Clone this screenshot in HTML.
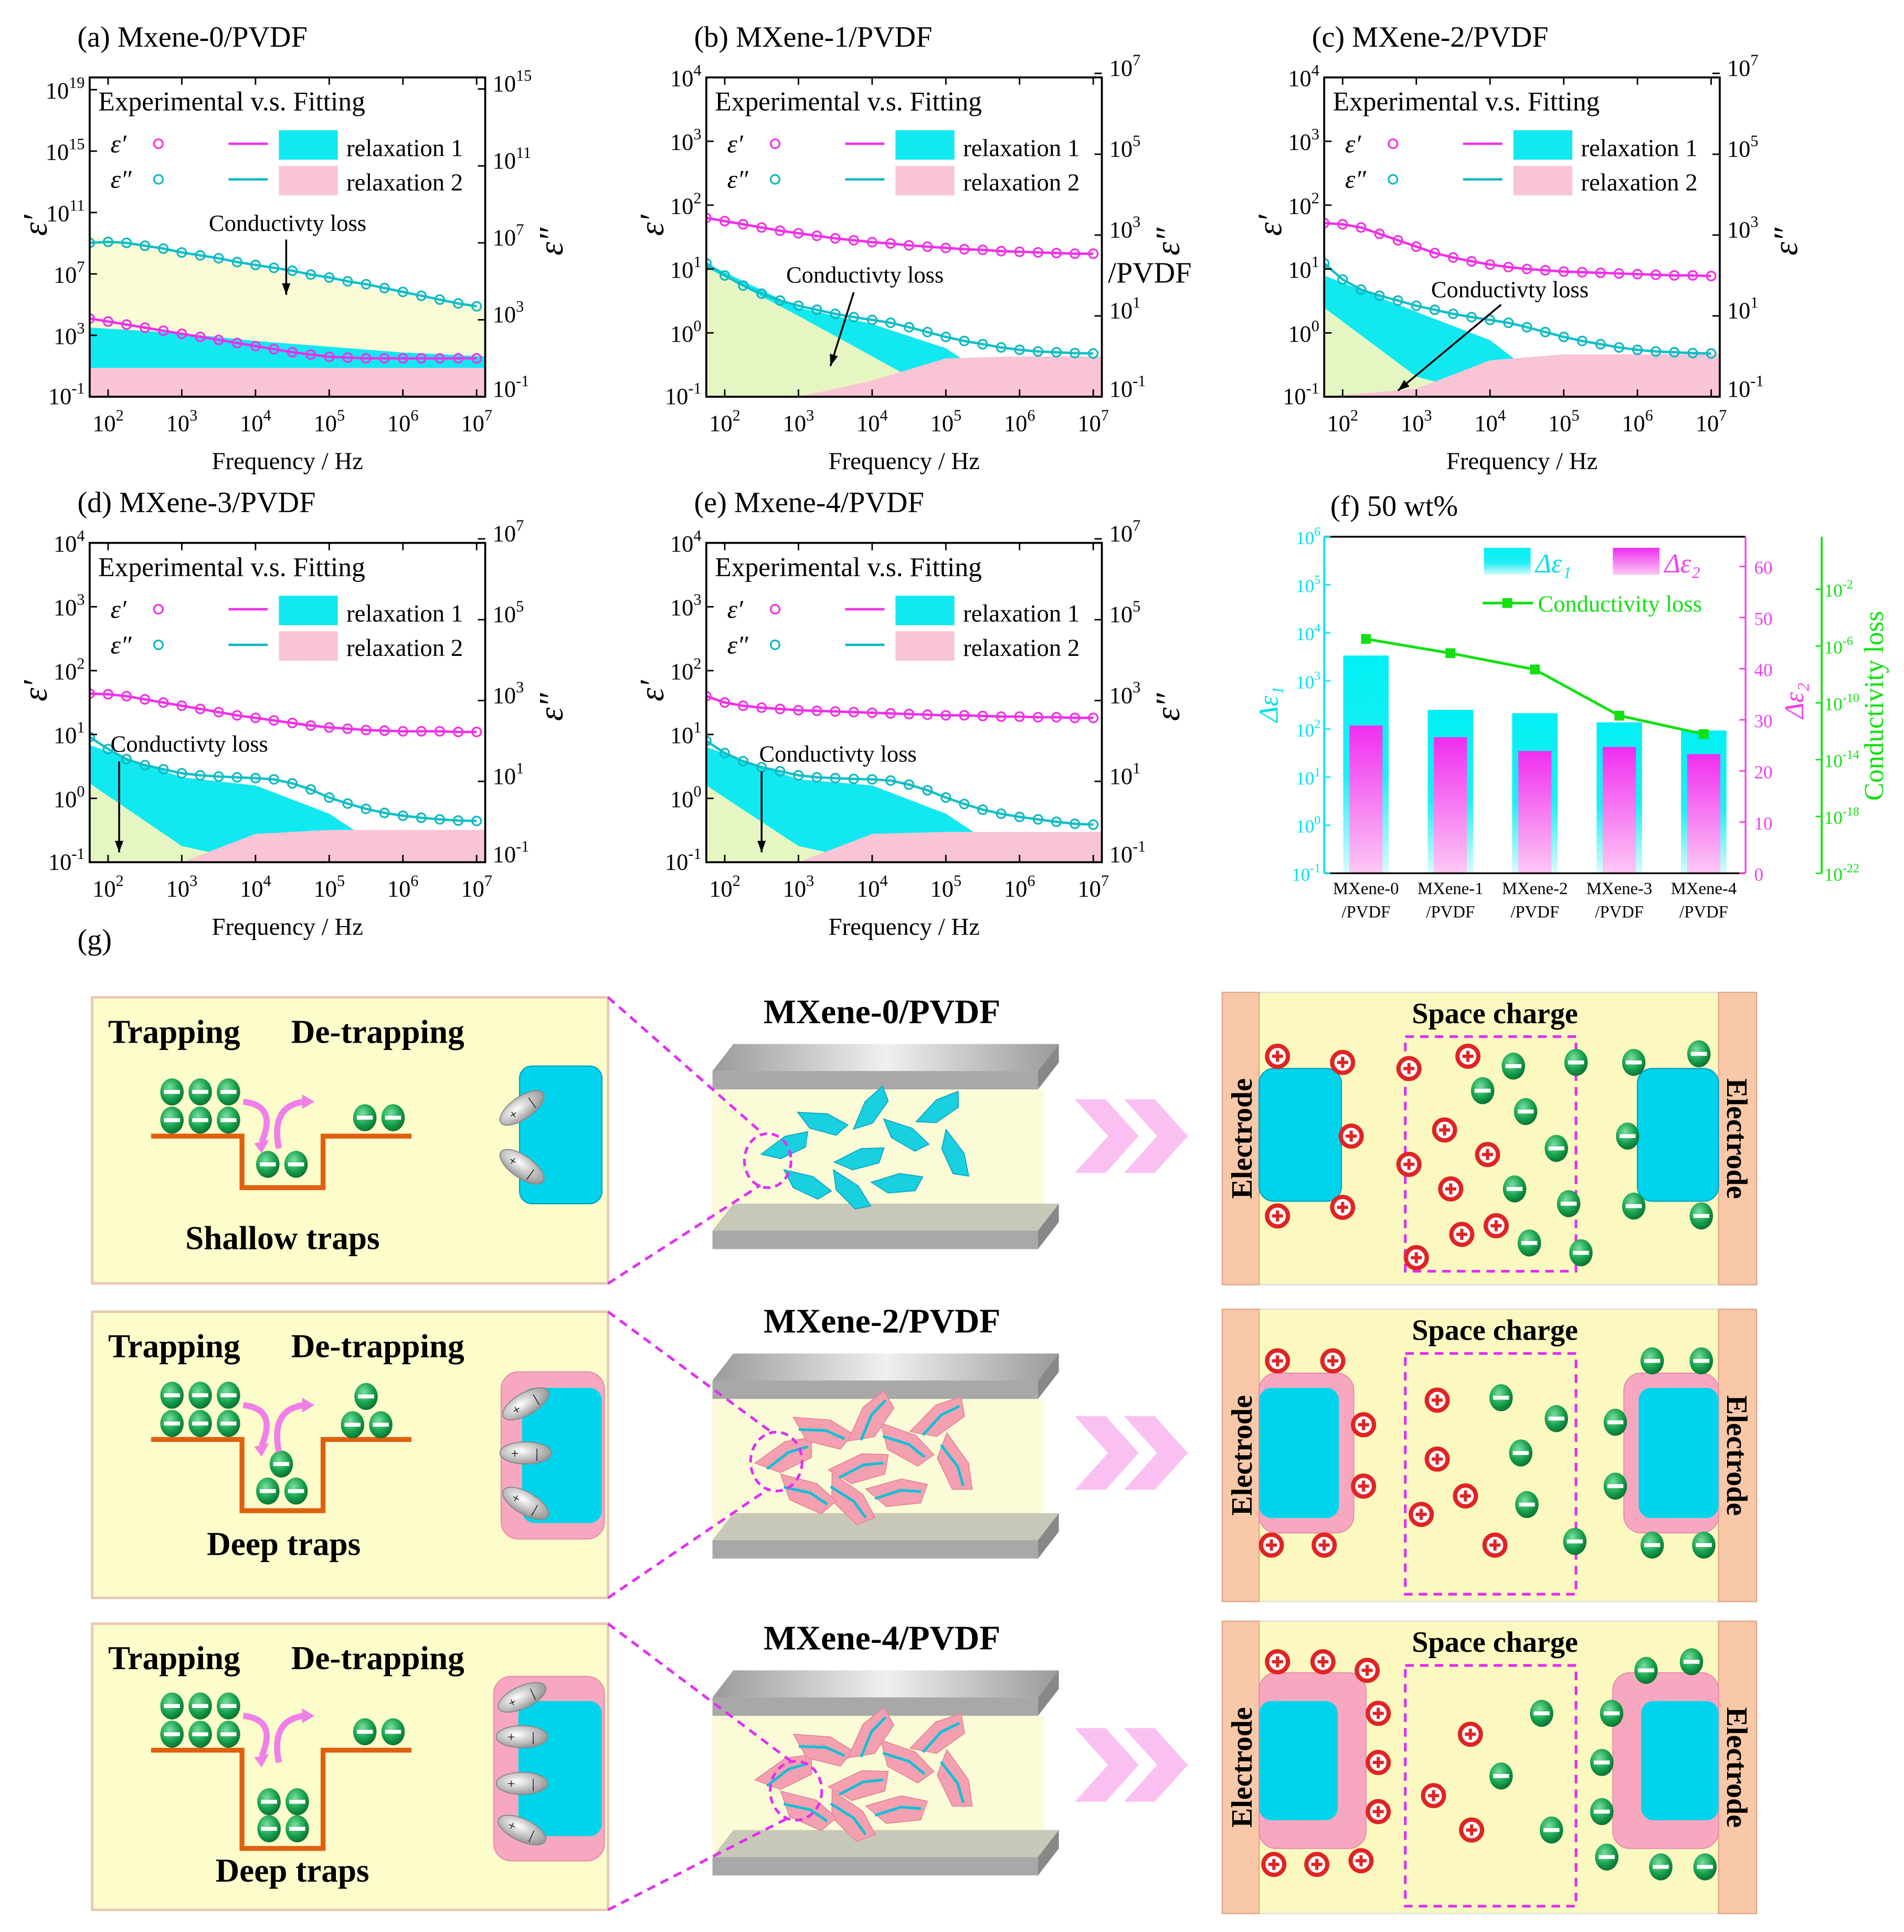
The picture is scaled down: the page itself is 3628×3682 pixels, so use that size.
<!DOCTYPE html>
<html><head><meta charset="utf-8"><style>
html,body{margin:0;padding:0;background:#fff}
svg{display:block}
text{font-family:"Liberation Serif",serif}
</style></head><body>
<svg id="fig" xmlns="http://www.w3.org/2000/svg" width="3628" height="3682" viewBox="0 0 1550 1573">
<defs>
<radialGradient id="gball" cx="0.4" cy="0.35" r="0.7"><stop offset="0" stop-color="#7be0a0"/><stop offset="0.6" stop-color="#16a04c"/><stop offset="1" stop-color="#0a6a30"/></radialGradient>
<linearGradient id="gcy" x1="0" y1="0" x2="0" y2="1"><stop offset="0" stop-color="#00f0f5"/><stop offset="0.55" stop-color="#20eef2"/><stop offset="1" stop-color="#d8fbfc"/></linearGradient>
<linearGradient id="gmg" x1="0" y1="0" x2="0" y2="1"><stop offset="0" stop-color="#f02ef0"/><stop offset="1" stop-color="#fcc8f4"/></linearGradient>
<linearGradient id="gplate" x1="0" y1="0" x2="1" y2="0"><stop offset="0" stop-color="#9a9a9a"/><stop offset="0.5" stop-color="#f0f0f0"/><stop offset="1" stop-color="#9a9a9a"/></linearGradient>
<radialGradient id="gdip" cx="0.4" cy="0.4" r="0.7"><stop offset="0" stop-color="#ffffff"/><stop offset="1" stop-color="#8a8a8a"/></radialGradient>
</defs>
<g id="charts"></g>
<g id="schem"></g>
</svg>
<script>
// ---------- shared chart data ----------
const fLog = [1.75,2,2.25,2.5,2.75,3,3.25,3.5,3.75,4,4.25,4.5,4.75,5,5.25,5.5,5.75,6,6.25,6.5,6.75,7];
const fReg = [1.75,3,4,5,6,7.12];
const xTickExp = [2,3,4,5,6,7];
// panel a
const aEps1 = [4.1,3.9,3.7,3.5,3.3,3.1,2.9,2.7,2.5,2.3,2.1,1.9,1.75,1.6,1.55,1.5,1.5,1.5,1.5,1.5,1.5,1.5];
const aEps2 = [7.0,7.05,7.0,6.85,6.7,6.5,6.35,6.2,6.0,5.85,5.7,5.55,5.35,5.2,5.0,4.85,4.65,4.45,4.25,4.05,3.85,3.7];
const aCond = [7.4,6.4,5.7,5.0,4.3,3.6];
const aRel1 = [2.6,2.3,1.9,1.6,1.3,1.1];
const aRel2 = [0.5,0.5,0.5,0.5,0.5,0.5];
const aLeftTicks = [-1,3,7,11,15,19];
const aRightTicks = [-1,3,7,11,15];
// panel b
const bEps1 = [1.8,1.75,1.7,1.65,1.6,1.56,1.52,1.48,1.45,1.42,1.4,1.37,1.35,1.33,1.31,1.3,1.28,1.27,1.26,1.25,1.24,1.24];
const bEps2 = [2.3,2.0,1.75,1.55,1.38,1.25,1.15,1.05,0.97,0.9,0.83,0.72,0.6,0.48,0.38,0.3,0.22,0.16,0.12,0.1,0.08,0.07];
const bCond = [2.2,1.0,0.0,-1,-1,-1];
const bRel1 = [2.3,1.2,0.8,0.2,-1,-1];
const bRel2 = [-1,-1,-0.6,-0.05,0,0];
// panel c
const cEps1 = [1.72,1.7,1.65,1.55,1.45,1.35,1.25,1.18,1.12,1.07,1.03,1.0,0.98,0.96,0.95,0.94,0.93,0.92,0.91,0.9,0.9,0.89];
const cEps2 = [2.3,1.9,1.65,1.5,1.38,1.25,1.15,1.05,0.97,0.9,0.83,0.72,0.6,0.48,0.38,0.3,0.22,0.16,0.12,0.1,0.08,0.07];
const cCond = [1.2,-0.5,-1,-1,-1,-1];
const cRel1 = [2.0,1.1,0.4,-1,-1,-1];
const cRel2 = [-1,-0.8,-0.1,0.05,0.05,0.05];
// panel d
const dEps1 = [1.64,1.63,1.6,1.55,1.5,1.45,1.4,1.35,1.3,1.26,1.22,1.18,1.14,1.11,1.09,1.07,1.06,1.05,1.05,1.05,1.04,1.04];
const dEps2 = [2.1,1.8,1.55,1.4,1.3,1.2,1.15,1.12,1.1,1.08,1.05,0.95,0.8,0.6,0.45,0.32,0.22,0.15,0.1,0.06,0.03,0.02];
const dCond = [0.95,-0.6,-1,-1,-1,-1];
const dRel1 = [1.9,1.1,0.9,0.2,-1,-1];
const dRel2 = [-1,-1,-0.3,-0.2,-0.2,-0.2];
// panel e
const eEps1 = [1.6,1.5,1.45,1.42,1.4,1.38,1.37,1.36,1.35,1.34,1.33,1.32,1.31,1.3,1.3,1.29,1.28,1.28,1.27,1.27,1.26,1.26];
const eEps2 = [2.0,1.7,1.5,1.35,1.25,1.15,1.1,1.08,1.06,1.05,1.02,0.92,0.78,0.6,0.44,0.3,0.2,0.12,0.06,0.0,-0.05,-0.07];
const eCond = [0.9,-0.6,-1,-1,-1,-1];
const eRel1 = [1.85,1.05,0.9,0.2,-1,-1];
const eRel2 = [-1,-1,-0.3,-0.25,-0.25,-0.25];
const bLeftTicks = [-1,0,1,2,3,4];
const bRightTicks = [-1,1,3,5,7];
// panel f
const fCats = ["MXene-0","MXene-1","MXene-2","MXene-3","MXene-4"];
const fDe1 = [3.53,2.4,2.33,2.14,1.97];     // log10 Δε1
const fDe2 = [28.9,26.6,23.9,24.7,23.3];    // Δε2
const fCond = [-5.5,-6.5,-7.65,-10.9,-12.2]; // log10 conductivity loss
const fLeftTicks = [-1,0,1,2,3,4,5,6];
const fRightTicks = [0,10,20,30,40,50,60];
const fGreenTicks = [-22,-18,-14,-10,-6,-2];

const NS = "http://www.w3.org/2000/svg";
function mk(parent, tag, attrs, name, inter) {
  const el = document.createElementNS(NS, tag);
  for (const k in attrs) el.setAttribute(k, attrs[k]);
  
  
  parent.appendChild(el);
  return el;
}
function pow10(parent, x, y, exp, anchor, size, color, name) {
  const t = mk(parent, 'text', {x:x, y:y, 'text-anchor':anchor, 'font-size':size, fill:color||'#000'}, name, false);
  t.appendChild(document.createTextNode('10'));
  const s = document.createElementNS(NS, 'tspan');
  s.setAttribute('dy', -size*0.45); s.setAttribute('font-size', size*0.68);
  s.textContent = String(exp);
  t.appendChild(s);
  return t;
}
const charts = document.getElementById('charts');

const panels = [
 {id:'a', ox:0, oy:0, title:'(a) Mxene-0/PVDF', e1:aEps1, e2:aEps2, cond:aCond, r1:aRel1, r2:aRel2, lmin:-1,lmax:19.8, rmin:-1,rmax:15.6, lt:aLeftTicks, rt:aRightTicks, condColor:'#fbfbd6', condFirst:true, ann:[170,188,233,195,233,240]},
 {id:'b', ox:502, oy:0, title:'(b) MXene-1/PVDF', e1:bEps1, e2:bEps2, cond:bCond, r1:bRel1, r2:bRel2, lmin:-1,lmax:4,rmin:-1,rmax:6.9, lt:bLeftTicks, rt:bRightTicks, condColor:'#e6f6c2', condFirst:false, ann:[640,230,695,238,676,298]},
 {id:'c', ox:1005, oy:0, title:'(c) MXene-2/PVDF', e1:cEps1, e2:cEps2, cond:cCond, r1:cRel1, r2:cRel2, lmin:-1,lmax:4,rmin:-1,rmax:6.9, lt:bLeftTicks, rt:bRightTicks, condColor:'#e6f6c2', condFirst:false, ann:[1165,242,1222,248,1138,318]},
 {id:'d', ox:0, oy:379, title:'(d) MXene-3/PVDF', e1:dEps1, e2:dEps2, cond:dCond, r1:dRel1, r2:dRel2, lmin:-1,lmax:4,rmin:-1,rmax:6.9, lt:bLeftTicks, rt:bRightTicks, condColor:'#e6f6c2', condFirst:false, ann:[90,612,97,620,97,694]},
 {id:'e', ox:502, oy:379, title:'(e) Mxene-4/PVDF', e1:eEps1, e2:eEps2, cond:eCond, r1:eRel1, r2:eRel2, lmin:-1,lmax:4,rmin:-1,rmax:6.9, lt:bLeftTicks, rt:bRightTicks, condColor:'#e6f6c2', condFirst:false, ann:[618,620,620,628,620,694]}
];

panels.forEach(p => {
  const g = mk(charts, 'g', {}, 'panel-' + p.id, false);
  const x0 = 73 + p.ox, x1 = 395 + p.ox, y0 = 63 + p.oy, y1 = 323 + p.oy;
  const X = v => x0 + (v - 1.75) * 60;
  const YL = v => y1 - (v - p.lmin) / (p.lmax - p.lmin) * (y1 - y0);
  const YR = v => y1 - (v - p.rmin) / (p.rmax - p.rmin) * (y1 - y0);
  const clipId = 'clip' + p.id;
  const cp = mk(charts, 'clipPath', {id: clipId}, 'clip-' + p.id, false);
  mk(cp, 'rect', {x:x0, y:y0, width:x1-x0, height:y1-y0}, 'clip-rect', false);
  mk(g, 'text', {x:63 + p.ox, y:38 + p.oy, 'font-size':24}, 'panel-title-' + p.id, false).textContent = p.title;
  const rg = mk(g, 'g', {'clip-path':'url(#'+clipId+')'}, 'regions-' + p.id, false);
  function area(arr, color, name) {
    let d = 'M' + X(fReg[0]) + ',' + y1;
    fReg.forEach((f,i) => { d += ' L' + X(f) + ',' + YR(arr[i]); });
    d += ' L' + X(fReg[fReg.length-1]) + ',' + y1 + ' Z';
    mk(rg, 'path', {d:d, fill:color}, name, false);
  }
  if (p.condFirst) {
    area(p.cond, p.condColor, 'conductivity-region');
    area(p.r1, '#12e8f0', 'relaxation1-region');
  } else {
    area(p.r1, '#12e8f0', 'relaxation1-region');
    area(p.cond, p.condColor, 'conductivity-region');
  }
  area(p.r2, '#f9c4d6', 'relaxation2-region');
  let d1 = '', d2 = '';
  fLog.forEach((f,i) => { d1 += (i?' L':'M') + X(f) + ',' + YL(p.e1[i]); d2 += (i?' L':'M') + X(f) + ',' + YR(p.e2[i]); });
  mk(rg, 'path', {d:d1, fill:'none', stroke:'#f030e8', 'stroke-width':2}, 'eps1-fit-line', false);
  mk(rg, 'path', {d:d2, fill:'none', stroke:'#10c0c8', 'stroke-width':2}, 'eps2-fit-line', false);
  fLog.forEach((f,i) => {
    mk(rg, 'circle', {cx:X(f), cy:YL(p.e1[i]), r:3.6, fill:'none', stroke:'#f030e8', 'stroke-width':1.4}, 'eps1-point', false);
    mk(rg, 'circle', {cx:X(f), cy:YR(p.e2[i]), r:3.6, fill:'none', stroke:'#10b8c0', 'stroke-width':1.4}, 'eps2-point', false);
  });
  mk(g, 'rect', {x:x0, y:y0, width:x1-x0, height:y1-y0, fill:'none', stroke:'#000', 'stroke-width':1.6}, 'plot-frame-' + p.id, false);
  xTickExp.forEach(e => {
    mk(g, 'line', {x1:X(e), x2:X(e), y1:y1, y2:y1-6, stroke:'#000', 'stroke-width':1.2}, 'x-tick', false);
    mk(g, 'line', {x1:X(e), x2:X(e), y1:y0, y2:y0+6, stroke:'#000', 'stroke-width':1.2}, 'x-tick-top', false);
    pow10(g, X(e), y1 + 28, e, 'middle', 19, '#000', 'x-tick-label');
  });
  p.lt.forEach(v => {
    mk(g, 'line', {x1:x0, x2:x0+6, y1:YL(v), y2:YL(v), stroke:'#000', 'stroke-width':1.2}, 'y-left-tick', false);
    pow10(g, x0 - 4, Math.min(YL(v) + 7, y1 + 6), v, 'end', 19, '#000', 'y-left-tick-label');
  });
  p.rt.forEach(v => {
    mk(g, 'line', {x1:x1, x2:x1-6, y1:YR(v), y2:YR(v), stroke:'#000', 'stroke-width':1.2}, 'y-right-tick', false);
    pow10(g, x1 + 6, Math.min(YR(v) + 2, y1), v, 'start', 19, '#000', 'y-right-tick-label');
  });
  mk(g, 'text', {x:234 + p.ox, y:382 + p.oy, 'text-anchor':'middle', 'font-size':20}, 'x-axis-title', false).textContent = 'Frequency / Hz';
  mk(g, 'text', {x:0, y:0, 'font-size':28, 'font-style':'italic', transform:'translate(' + (38+p.ox) + ',' + (192+p.oy) + ') rotate(-90)'}, 'y-left-axis-title', false).textContent = 'ε′';
  mk(g, 'text', {x:0, y:0, 'font-size':28, 'font-style':'italic', transform:'translate(' + (458+p.ox) + ',' + (208+p.oy) + ') rotate(-90)'}, 'y-right-axis-title', false).textContent = 'ε″';
  mk(g, 'text', {x:80+p.ox, y:90+p.oy, 'font-size':22}, 'legend-title', false).textContent = 'Experimental v.s. Fitting';
  mk(g, 'text', {x:90+p.ox, y:124+p.oy, 'font-size':21, 'font-style':'italic'}, 'legend-eps1-label', false).textContent = 'ε′';
  mk(g, 'text', {x:90+p.ox, y:153+p.oy, 'font-size':21, 'font-style':'italic'}, 'legend-eps2-label', false).textContent = 'ε″';
  mk(g, 'circle', {cx:129+p.ox, cy:117+p.oy, r:3.6, fill:'none', stroke:'#f030e8', 'stroke-width':1.4}, 'legend-eps1-marker', false);
  mk(g, 'circle', {cx:129+p.ox, cy:146+p.oy, r:3.6, fill:'none', stroke:'#10b8c0', 'stroke-width':1.4}, 'legend-eps2-marker', false);
  mk(g, 'line', {x1:186+p.ox, x2:218+p.ox, y1:117+p.oy, y2:117+p.oy, stroke:'#f030e8', 'stroke-width':2}, 'legend-eps1-line', false);
  mk(g, 'line', {x1:186+p.ox, x2:218+p.ox, y1:146+p.oy, y2:146+p.oy, stroke:'#10b8c0', 'stroke-width':2}, 'legend-eps2-line', false);
  mk(g, 'rect', {x:227+p.ox, y:106+p.oy, width:48, height:24, fill:'#12e8f0'}, 'legend-relaxation1-swatch', false);
  mk(g, 'rect', {x:227+p.ox, y:135+p.oy, width:48, height:24, fill:'#f9c4d6'}, 'legend-relaxation2-swatch', false);
  mk(g, 'text', {x:282+p.ox, y:127+p.oy, 'font-size':20, 'font-family':'Liberation Sans'}, 'legend-relaxation1-label', false).textContent = 'relaxation 1';
  mk(g, 'text', {x:282+p.ox, y:155+p.oy, 'font-size':20, 'font-family':'Liberation Sans'}, 'legend-relaxation2-label', false).textContent = 'relaxation 2';
  const a = p.ann;
  mk(g, 'text', {x:a[0], y:a[1], 'font-size':19}, 'conductivity-loss-label', false).textContent = 'Conductivty loss';
  mk(g, 'line', {x1:a[2], y1:a[3], x2:a[4], y2:a[5], stroke:'#000', 'stroke-width':1.5}, 'conductivity-arrow', false);
  const ang = Math.atan2(a[5]-a[3], a[4]-a[2]);
  const hx = a[4], hy = a[5];
  mk(g, 'path', {d:'M'+hx+','+hy+' L'+(hx-10*Math.cos(ang-0.35))+','+(hy-10*Math.sin(ang-0.35))+' L'+(hx-10*Math.cos(ang+0.35))+','+(hy-10*Math.sin(ang+0.35))+' Z', fill:'#000'}, 'conductivity-arrowhead', false);
});
mk(charts, 'text', {x:902, y:230, 'font-size':24}, 'stray-pvdf-label', false).textContent = '/PVDF';

// ---------- panel f ----------
(function(){
  const g = mk(charts, 'g', {}, 'panel-f', false);
  const x0 = 1078, x1 = 1421, y0 = 437, y1 = 711, xg = 1483;
  const YL = v => y1 - (v + 1) / 7 * (y1 - y0);
  const YM = v => y1 - v / 65.8 * (y1 - y0);
  const YG = v => y1 - (v + 22) / 23.7 * (y1 - y0);
  const XC = i => 1112 + i * 68.75;
  mk(g, 'text', {x:1083, y:420, 'font-size':24}, 'panel-title-f', false).textContent = '(f) 50 wt%';
  fCats.forEach((c,i) => {
    mk(g, 'rect', {x:XC(i)-18.5, y:YL(fDe1[i]), width:37, height:y1-YL(fDe1[i]), fill:'url(#gcy)'}, 'bar-delta-eps1', false);
    mk(g, 'rect', {x:XC(i)-13.5, y:YM(fDe2[i]), width:27, height:y1-YM(fDe2[i]), fill:'url(#gmg)'}, 'bar-delta-eps2', false);
    mk(g, 'text', {x:XC(i), y:728, 'text-anchor':'middle', 'font-size':14}, 'x-category-label', false).textContent = c;
    mk(g, 'text', {x:XC(i), y:747, 'text-anchor':'middle', 'font-size':14}, 'x-category-label-2', false).textContent = '/PVDF';
  });
  let d = '';
  fCats.forEach((c,i) => { d += (i?' L':'M') + XC(i) + ',' + YG(fCond[i]); });
  mk(g, 'path', {d:d, fill:'none', stroke:'#12e012', 'stroke-width':2.2, 'stroke-linejoin':'round'}, 'conductivity-loss-line', false);
  fCats.forEach((c,i) => {
    mk(g, 'rect', {x:XC(i)-4, y:YG(fCond[i])-4, width:8, height:8, fill:'#12e012'}, 'conductivity-loss-point', false);
  });
  mk(g, 'line', {x1:x0, x2:x1, y1:y0, y2:y0, stroke:'#000', 'stroke-width':1.4}, 'top-axis', false);
  mk(g, 'line', {x1:x0, x2:x1, y1:y1, y2:y1, stroke:'#000', 'stroke-width':1.4}, 'bottom-axis', false);
  mk(g, 'line', {x1:x0, x2:x0, y1:y0, y2:y1, stroke:'#00e8f0', 'stroke-width':1.6}, 'left-axis', false);
  mk(g, 'line', {x1:x1, x2:x1, y1:y0, y2:y1, stroke:'#f040f0', 'stroke-width':1.4}, 'right-axis', false);
  mk(g, 'line', {x1:xg, x2:xg, y1:y0, y2:y1, stroke:'#12e012', 'stroke-width':1.6}, 'green-axis', false);
  fLeftTicks.forEach(v => {
    mk(g, 'line', {x1:x0, x2:x0+5, y1:YL(v), y2:YL(v), stroke:'#00e8f0', 'stroke-width':1.2}, 'left-tick', false);
    pow10(g, x0-3, YL(v)+6, v, 'end', 15, '#00e0ea', 'left-tick-label');
  });
  fRightTicks.forEach(v => {
    mk(g, 'line', {x1:x1, x2:x1-5, y1:YM(v), y2:YM(v), stroke:'#f040f0', 'stroke-width':1.2}, 'right-tick', false);
    mk(g, 'text', {x:x1+7, y:YM(v)+6, 'font-size':15, fill:'#f040f0'}, 'right-tick-label', false).textContent = v;
  });
  fGreenTicks.forEach(v => {
    mk(g, 'line', {x1:xg, x2:xg-5, y1:YG(v), y2:YG(v), stroke:'#12e012', 'stroke-width':1.2}, 'green-tick', false);
    pow10(g, xg+2, YG(v)+6, v, 'start', 15, '#12e012', 'green-tick-label');
  });
  mk(g, 'text', {x:0, y:0, 'font-size':22, fill:'#00e0ea', 'font-style':'italic', transform:'translate(1040,588) rotate(-90)'}, 'y-left-title', false).textContent = 'Δε₁';
  mk(g, 'text', {x:0, y:0, 'font-size':22, fill:'#f040f0', 'font-style':'italic', transform:'translate(1468,585) rotate(-90)'}, 'y-right-title', false).textContent = 'Δε₂';
  mk(g, 'text', {x:0, y:0, 'font-size':22, fill:'#12e012', 'font-family':'Liberation Sans', transform:'translate(1533,652) rotate(-90)'}, 'y-green-title', false).textContent = 'Conductivity loss';
  mk(g, 'rect', {x:1208, y:446, width:38, height:22, fill:'url(#gcy)'}, 'legend-de1-swatch', false);
  mk(g, 'rect', {x:1313, y:446, width:38, height:22, fill:'url(#gmg)'}, 'legend-de2-swatch', false);
  mk(g, 'text', {x:1250, y:466, 'font-size':22, fill:'#00e0ea', 'font-style':'italic'}, 'legend-de1-label', false).textContent = 'Δε₁';
  mk(g, 'text', {x:1355, y:466, 'font-size':22, fill:'#f040f0', 'font-style':'italic'}, 'legend-de2-label', false).textContent = 'Δε₂';
  mk(g, 'line', {x1:1207, x2:1248, y1:491, y2:491, stroke:'#12e012', 'stroke-width':2.2}, 'legend-cond-line', false);
  mk(g, 'rect', {x:1223, y:487, width:8, height:8, fill:'#12e012'}, 'legend-cond-marker', false);
  mk(g, 'text', {x:1252, y:498, 'font-size':19, fill:'#12e012', 'font-family':'Liberation Sans'}, 'legend-cond-label', false).textContent = 'Conductivity loss';
})();

// ---------- schematic (g) ----------
const S = document.getElementById('schem');
mk(S, 'text', {x:63, y:773, 'font-size':24}, 'panel-title-g', false).textContent = '(g)';
function gball(parent, x, y) {
  const b = mk(parent, 'g', {}, 'negative-charge', false);
  mk(b, 'ellipse', {cx:x, cy:y, rx:9.5, ry:11, fill:'url(#gball)'}, 'negative-charge-body', false);
  mk(b, 'rect', {x:x-6.5, y:y-1.6, width:13, height:3.2, fill:'#fff'}, 'minus-sign', false);
}
function rball(parent, x, y) {
  const b = mk(parent, 'g', {}, 'positive-charge', false);
  mk(b, 'circle', {cx:x, cy:y, r:8.5, fill:'#fff', stroke:'#e02424', 'stroke-width':3.5}, 'positive-charge-body', false);
  mk(b, 'rect', {x:x-4.5, y:y-1.3, width:9, height:2.6, fill:'#e02424'}, 'plus-h', false);
  mk(b, 'rect', {x:x-1.3, y:y-4.5, width:2.6, height:9, fill:'#e02424'}, 'plus-v', false);
}
function dipole(parent, x, y, ang) {
  const b = mk(parent, 'g', {transform:'translate('+x+','+y+') rotate('+ang+')'}, 'dipole', false);
  mk(b, 'ellipse', {cx:0, cy:0, rx:21, ry:9, fill:'url(#gdip)', stroke:'#888', 'stroke-width':0.8}, 'dipole-body', false);
  mk(b, 'text', {x:-12, y:4, 'font-size':11, 'font-family':'Liberation Sans'}, 'dipole-plus', false).textContent = '+';
  mk(b, 'text', {x:8, y:4, 'font-size':11, 'font-family':'Liberation Sans'}, 'dipole-minus', false).textContent = '|';
}
const rows = [
  {dy:0, label:'Shallow traps', lblX:230, lblY:1017, mname:'MXene-0/PVDF', trap:'M123,925 L197,925 L197,967 L263,967 L263,925 L335,925',
   inTrap:[[218,948],[241,948]], right:[[297,910],[320,910]], pink:false, dip:[[425,902,-35],[425,950,35]], circ:[625,945,22]},
  {dy:256, label:'Deep traps', lblX:231, lblY:1266, mname:'MXene-2/PVDF', trap:'M123,1172 L197,1172 L197,1230 L263,1230 L263,1172 L335,1172',
   inTrap:[[218,1214],[241,1214],[229,1192]], right:[[287,1160],[310,1160],[298,1137]], pink:[408,1117,84,136,425,1130,65,110], dip:[[428,1143,-30],[428,1183,0],[428,1224,30]], circ:[632,1190,24]},
  {dy:510, label:'Deep traps', lblX:238, lblY:1532, mname:'MXene-4/PVDF', trap:'M123,1425 L197,1425 L197,1505 L263,1505 L263,1425 L335,1425',
   inTrap:[[219,1467],[242,1467],[219,1489],[242,1489]], right:[[297,1410],[320,1410]], pink:[402,1365,90,150,422,1385,68,110], dip:[[425,1382,-25],[425,1414,0],[425,1452,0],[425,1490,25]], circ:[648,1458,24]}
];
const flakeSeeds = [[640,935,-30],[668,915,10],[700,945,-20],[735,925,25],[765,905,-40],[690,970,40],[730,965,-10],[775,940,60],[710,905,-60],[655,965,20]];
const rowCharges = [
 {red:[[1040,860],[1093,865],[1100,925],[1040,990],[1093,983],[1147,870],[1195,860],[1176,920],[1211,940],[1147,948],[1181,968],[1218,998],[1190,1005],[1153,1024]],
  green:[[1283,865],[1383,858],[1330,865],[1207,888],[1242,905],[1232,868],[1267,935],[1325,925],[1233,968],[1277,980],[1245,1012],[1287,1020],[1330,982],[1385,990]],
  blocks:null},
 {red:[[1040,1108],[1085,1108],[1110,1160],[1110,1210],[1035,1258],[1078,1258],[1170,1140],[1170,1188],[1193,1218],[1157,1233],[1217,1258]],
  green:[[1345,1108],[1385,1108],[1222,1138],[1267,1155],[1238,1183],[1315,1158],[1315,1210],[1243,1225],[1282,1255],[1345,1258],[1387,1258]],
  blocks:[1025,1118,77,130,1322,12]},
 {red:[[1040,1353],[1077,1353],[1113,1360],[1122,1395],[1122,1435],[1122,1475],[1037,1518],[1072,1518],[1108,1515],[1197,1412],[1167,1462],[1198,1490]],
  green:[[1340,1360],[1377,1353],[1312,1395],[1304,1435],[1304,1475],[1308,1512],[1352,1520],[1388,1520],[1255,1395],[1222,1446],[1263,1490]],
  blocks:[1025,1362,87,143,1313,23]}
];
rows.forEach((r, ri) => {
  const g = mk(S, 'g', {}, 'schematic-row-' + (ri+1), false);
  const by = 812 + r.dy;
  mk(g, 'rect', {x:75, y:by, width:420, height:233, fill:'#fdfccb', stroke:'#e8c8b0', 'stroke-width':2}, 'trap-box', false);
  mk(g, 'text', {x:88, y:by+37, 'font-size':27, 'font-weight':'bold'}, 'trapping-label', false).textContent = 'Trapping';
  mk(g, 'text', {x:237, y:by+37, 'font-size':27, 'font-weight':'bold'}, 'detrapping-label', false).textContent = 'De-trapping';
  mk(g, 'text', {x:r.lblX, y:r.lblY, 'font-size':27, 'font-weight':'bold', 'text-anchor':'middle'}, 'trap-type-label', false).textContent = r.label;
  if (r.pink) {
    const p = r.pink;
    mk(g, 'rect', {x:p[0], y:p[1], width:p[2], height:p[3], rx:14, fill:'#f7a8c0', stroke:'#e890b0'}, 'pink-shell', false);
    mk(g, 'rect', {x:p[4], y:p[5], width:p[6], height:p[7], rx:10, fill:'#00d4ec'}, 'mxene-block', false);
  } else {
    mk(g, 'rect', {x:423, y:868, width:67, height:112, rx:10, fill:'#00d4ec', stroke:'#0aa0c0'}, 'mxene-block', false);
  }
  r.dip.forEach(d => dipole(g, d[0], d[1], d[2]));
  mk(g, 'path', {d:r.trap, fill:'none', stroke:'#e06010', 'stroke-width':4}, 'trap-line', false);
  const ly = (ri === 0 ? 925 : ri === 1 ? 1172 : 1425);
  [[140,ly-13],[163,ly-13],[186,ly-13],[140,ly-36],[163,ly-36],[186,ly-36]].forEach(b => gball(g, b[0], b[1]));
  r.inTrap.forEach(b => gball(g, b[0], b[1]));
  r.right.forEach(b => gball(g, b[0], b[1]));
  mk(g, 'path', {d:'M198,'+(ly-28)+' Q226,'+(ly-25)+' 213,'+(ly+5), fill:'none', stroke:'#ee80e8', 'stroke-width':5}, 'trapping-arrow', false);
  mk(g, 'path', {d:'M207,'+(ly+6)+' L213,'+(ly+14)+' L219,'+(ly+3)+' Z', fill:'#ee80e8'}, 'trapping-arrowhead', false);
  mk(g, 'path', {d:'M227,'+(ly+10)+' Q220,'+(ly-25)+' 248,'+(ly-28), fill:'none', stroke:'#ee80e8', 'stroke-width':5}, 'detrapping-arrow', false);
  mk(g, 'path', {d:'M246,'+(ly-34)+' L256,'+(ly-28)+' L246,'+(ly-22)+' Z', fill:'#ee80e8'}, 'detrapping-arrowhead', false);
  const my = 850 + (ri === 0 ? 0 : ri === 1 ? 252 : 510);
  mk(g, 'text', {x:718, y:my-17, 'font-size':28, 'font-weight':'bold', 'text-anchor':'middle'}, 'composite-title', false).textContent = r.mname;
  mk(g, 'polygon', {points:'580,'+(my+37)+' 850,'+(my+37)+' 850,'+(my+152)+' 580,'+(my+152), fill:'#fbfbd8'}, 'composite-film', false);
  mk(g, 'polygon', {points:'597,'+my+' 862,'+my+' 845,'+(my+22)+' 580,'+(my+22), fill:'url(#gplate)'}, 'top-electrode-face', false);
  mk(g, 'rect', {x:580, y:my+22, width:265, height:15, fill:'#a8a8a8'}, 'top-electrode-edge', false);
  mk(g, 'polygon', {points:'845,'+(my+22)+' 862,'+my+' 862,'+(my+15)+' 845,'+(my+37), fill:'#888'}, 'top-electrode-side', false);
  mk(g, 'polygon', {points:'597,'+(my+130)+' 862,'+(my+130)+' 845,'+(my+152)+' 580,'+(my+152), fill:'#c8c8b8'}, 'bottom-electrode-face', false);
  mk(g, 'rect', {x:580, y:my+152, width:265, height:15, fill:'#a8a8a8'}, 'bottom-electrode-edge', false);
  mk(g, 'polygon', {points:'845,'+(my+152)+' 862,'+(my+130)+' 862,'+(my+145)+' 845,'+(my+167), fill:'#888'}, 'bottom-electrode-side', false);
  const fdy = my - 850;
  flakeSeeds.forEach(s => {
    const fg = mk(g, 'g', {transform:'translate('+s[0]+','+(s[1]+fdy)+') rotate('+s[2]+')'}, 'mxene-flake', false);
    if (ri === 0) {
      mk(fg, 'polygon', {points:'-20,-6 4,-9 22,-3 14,7 -8,5', fill:'#18d0e0', stroke:'#10a8c0', 'stroke-width':0.8}, 'flake-body', false);
    } else {
      mk(fg, 'polygon', {points:'-24,-9 6,-12 26,-4 18,10 -10,8', fill:'#f4a0b0', stroke:'#e58898', 'stroke-width':0.8}, 'flake-coating', false);
      mk(fg, 'path', {d:'M-18,0 L4,-3 L20,1', fill:'none', stroke:'#10c0d8', 'stroke-width':2.2}, 'flake-core', false);
    }
  });
  const c = r.circ;
  mk(g, 'ellipse', {cx:c[0], cy:c[1], rx:c[2]-3, ry:c[2], fill:'none', stroke:'#e030f0', 'stroke-width':2.2, 'stroke-dasharray':'6 4'}, 'zoom-circle', false);
  mk(g, 'line', {x1:495, y1:by, x2:c[0]-4, y2:c[1]-c[2], stroke:'#e030f0', 'stroke-width':2.2, 'stroke-dasharray':'7 5'}, 'zoom-line-top', false);
  mk(g, 'line', {x1:495, y1:by+233, x2:c[0]-6, y2:c[1]+c[2]-2, stroke:'#e030f0', 'stroke-width':2.2, 'stroke-dasharray':'7 5'}, 'zoom-line-bottom', false);
  const cy = 925 + (ri === 0 ? 0 : ri === 1 ? 258 : 512);
  [875, 915].forEach(x => {
    mk(g, 'polygon', {points:x+','+(cy-30)+' '+(x+25)+','+(cy-30)+' '+(x+52)+','+cy+' '+(x+25)+','+(cy+30)+' '+x+','+(cy+30)+' '+(x+27)+','+cy, fill:'#fbc0f2'}, 'chevron', false);
  });
  const ry = 808 + (ri === 0 ? 0 : ri === 1 ? 258 : 512);
  mk(g, 'rect', {x:995, y:ry, width:435, height:238, fill:'#fbf9c0', stroke:'#ddd', 'stroke-width':1}, 'space-charge-box', false);
  mk(g, 'rect', {x:995, y:ry, width:30, height:238, fill:'#f8c8a8', stroke:'#e0a888'}, 'left-electrode', false);
  mk(g, 'rect', {x:1399, y:ry, width:31, height:238, fill:'#f8c8a8', stroke:'#e0a888'}, 'right-electrode', false);
  mk(g, 'text', {x:0, y:0, 'font-size':24, 'font-weight':'bold', 'text-anchor':'middle', transform:'translate(1019,'+(ry+119)+') rotate(-90)'}, 'left-electrode-label', false).textContent = 'Electrode';
  mk(g, 'text', {x:0, y:0, 'font-size':24, 'font-weight':'bold', 'text-anchor':'middle', transform:'translate(1406,'+(ry+119)+') rotate(90)'}, 'right-electrode-label', false).textContent = 'Electrode';
  mk(g, 'text', {x:1217, y:ry+25, 'font-size':24, 'font-weight':'bold', 'text-anchor':'middle'}, 'space-charge-label', false).textContent = 'Space charge';
  mk(g, 'rect', {x:1144, y:ry+36, width:139, height:(ri===0?191:196), fill:'none', stroke:'#e030f0', 'stroke-width':2.2, 'stroke-dasharray':'7 5'}, 'space-charge-region', false);
  const rc = rowCharges[ri];
  if (!rc.blocks) {
    mk(g, 'rect', {x:1025, y:870, width:67, height:108, rx:12, fill:'#00d4ec', stroke:'#0aa0c0'}, 'left-mxene-block', false);
    mk(g, 'rect', {x:1333, y:870, width:66, height:108, rx:12, fill:'#00d4ec', stroke:'#0aa0c0'}, 'right-mxene-block', false);
  } else {
    const b = rc.blocks;
    mk(g, 'rect', {x:b[0], y:b[1], width:b[2], height:b[3], rx:14, fill:'#f7a8c0', stroke:'#e890b0'}, 'left-pink-shell', false);
    mk(g, 'rect', {x:b[0], y:b[1]+b[5], width:b[2]-b[5], height:b[3]-2*b[5], rx:10, fill:'#00d4ec'}, 'left-mxene-block', false);
    mk(g, 'rect', {x:b[4], y:b[1], width:1399-b[4], height:b[3], rx:14, fill:'#f7a8c0', stroke:'#e890b0'}, 'right-pink-shell', false);
    mk(g, 'rect', {x:b[4]+b[5], y:b[1]+b[5], width:1399-b[4]-b[5], height:b[3]-2*b[5], rx:10, fill:'#00d4ec'}, 'right-mxene-block', false);
  }
  rc.red.forEach(p => rball(g, p[0], p[1]));
  rc.green.forEach(p => gball(g, p[0], p[1]));
});
</script>
</body></html>
